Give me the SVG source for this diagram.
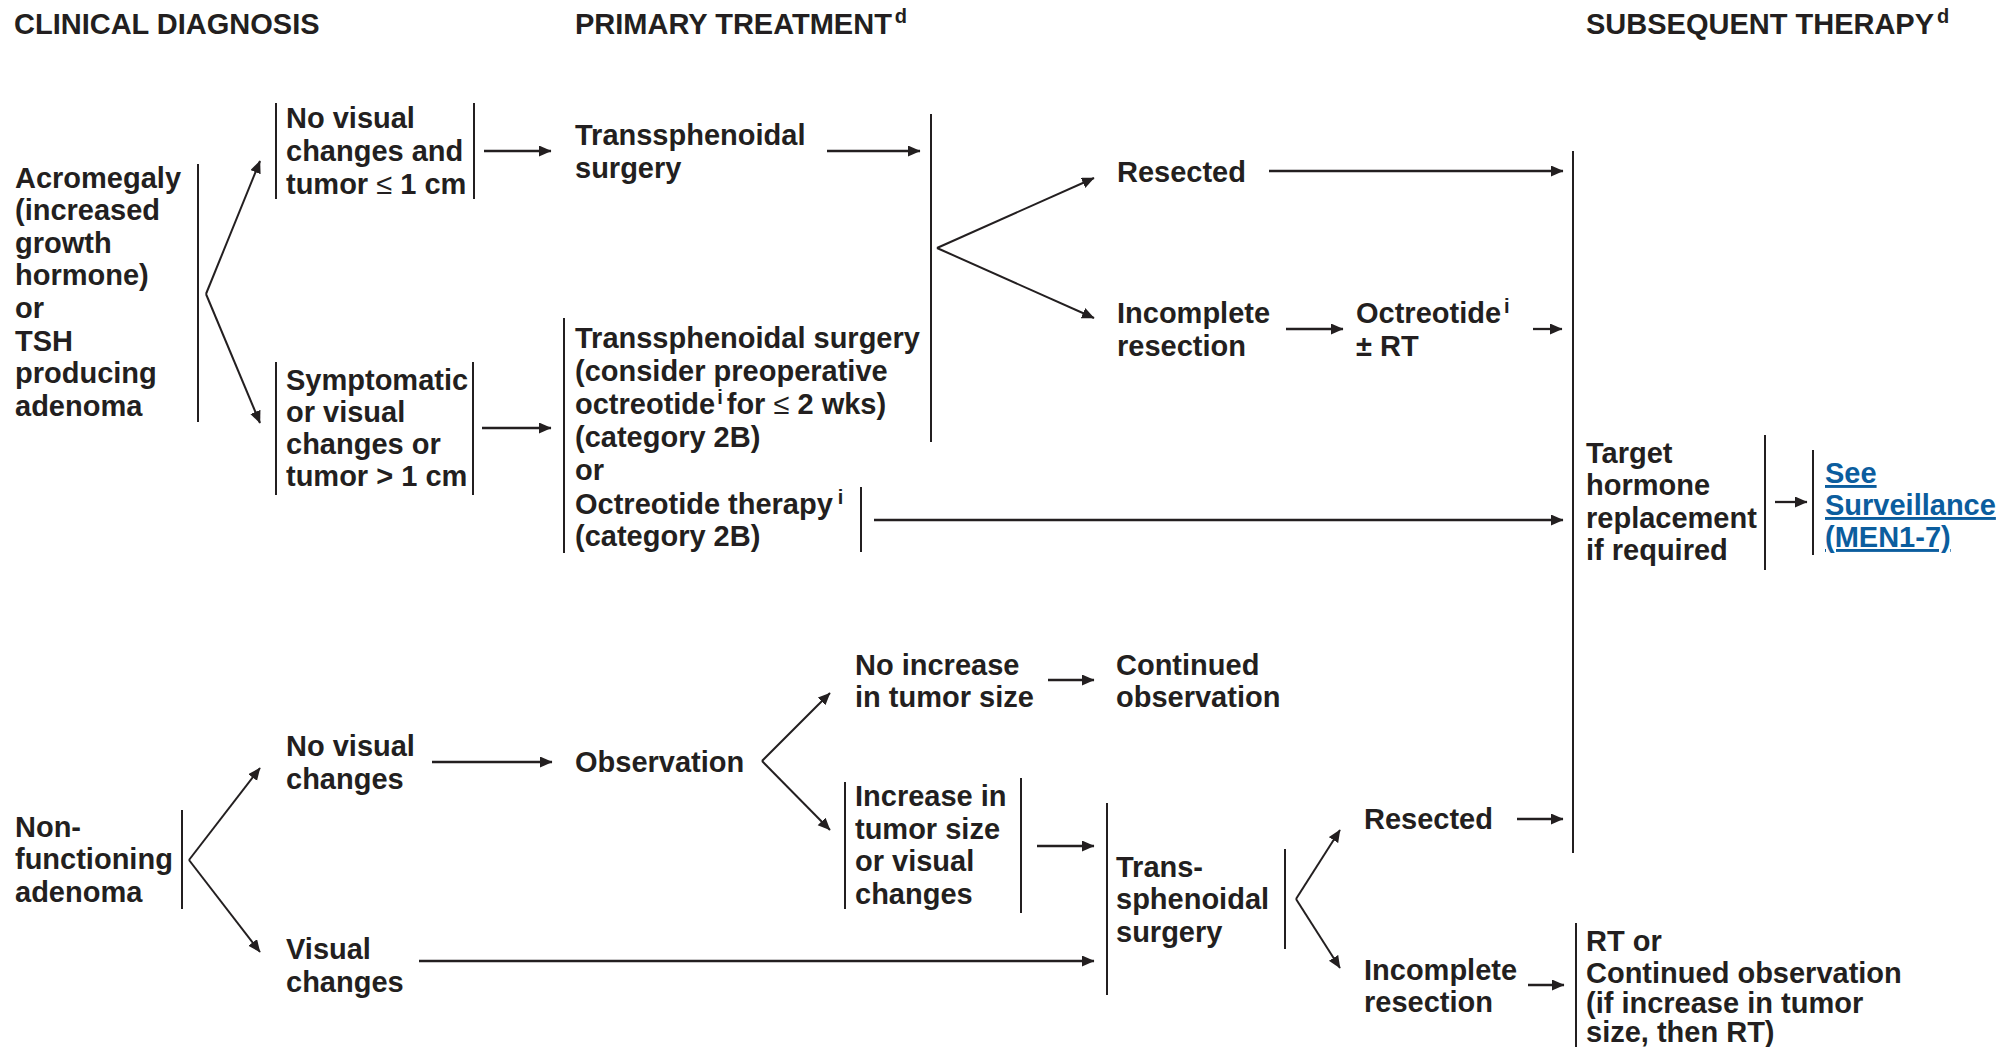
<svg xmlns="http://www.w3.org/2000/svg" width="2009" height="1047" viewBox="0 0 2009 1047">
  <style>
    text { font-family: "Liberation Sans", Arial, sans-serif; font-weight: bold; font-size: 29px; fill: #231f20; }
    .sup { font-size: 20px; }
    .sym { font-weight: normal; }
    .link { fill: #0b5d9e; text-decoration: underline; }
    .bar { stroke: #231f20; stroke-width: 2; fill: none; }
    .arr { stroke: #231f20; stroke-width: 2.3; fill: none; marker-end: url(#head); }
    .fork { stroke: #231f20; stroke-width: 2; fill: none; }
  </style>
  <defs>
    <marker id="head" markerUnits="userSpaceOnUse" markerWidth="14" markerHeight="12" refX="12" refY="5.5" orient="auto">
      <path d="M0,0 L12.5,5.5 L0,11 z" fill="#231f20"/>
    </marker>
  </defs>
  <rect width="2009" height="1047" fill="#ffffff"/>

  <!-- column headings -->
  <g id="headings">
    <text x="14" y="34">CLINICAL DIAGNOSIS</text>
    <text x="575" y="34">PRIMARY TREATMENT<tspan class="sup" dx="3" dy="-11">d</tspan></text>
    <text x="1586" y="34">SUBSEQUENT THERAPY<tspan class="sup" dx="3" dy="-11">d</tspan></text>
  </g>

  <!-- connectors: branch forks, separator bars and arrows -->
  <g id="connectors">
    <!-- acromegaly fork -->
    <line class="bar" x1="198" y1="164" x2="198" y2="422"/>
    <line class="fork arr" x1="206" y1="294" x2="260" y2="161"/>
    <line class="fork arr" x1="206" y1="294" x2="260" y2="423"/>

    <!-- node side bars -->
    <line class="bar" x1="276" y1="103" x2="276" y2="199"/>
    <line class="bar" x1="474" y1="103" x2="474" y2="199"/>
    <line class="bar" x1="276" y1="362" x2="276" y2="495"/>
    <line class="bar" x1="473" y1="362" x2="473" y2="495"/>
    <line class="bar" x1="564" y1="318" x2="564" y2="553"/>
    <line class="bar" x1="861" y1="487" x2="861" y2="552"/>
    <line class="bar" x1="931" y1="114" x2="931" y2="442"/>
    <line class="bar" x1="1573" y1="151" x2="1573" y2="853"/>
    <line class="bar" x1="1765" y1="435" x2="1765" y2="570"/>
    <line class="bar" x1="1813" y1="450" x2="1813" y2="555"/>

    <!-- upper arrows -->
    <line class="arr" x1="484" y1="151" x2="551" y2="151"/>
    <line class="arr" x1="827" y1="151" x2="920" y2="151"/>
    <line class="arr" x1="482" y1="428" x2="551" y2="428"/>
    <line class="fork arr" x1="937" y1="248" x2="1094" y2="178"/>
    <line class="fork arr" x1="937" y1="248" x2="1094" y2="318"/>
    <line class="arr" x1="1269" y1="171" x2="1563" y2="171"/>
    <line class="arr" x1="1286" y1="329" x2="1343" y2="329"/>
    <line class="arr" x1="1533" y1="329" x2="1562" y2="329"/>
    <line class="arr" x1="874" y1="520" x2="1563" y2="520"/>
    <line class="arr" x1="1775" y1="502" x2="1807" y2="502"/>

    <!-- non-functioning fork -->
    <line class="bar" x1="182" y1="810" x2="182" y2="909"/>
    <line class="fork arr" x1="189" y1="860" x2="260" y2="768"/>
    <line class="fork arr" x1="189" y1="860" x2="260" y2="952"/>

    <!-- lower arrows -->
    <line class="arr" x1="432" y1="762" x2="552" y2="762"/>
    <line class="fork arr" x1="762" y1="761" x2="830" y2="693"/>
    <line class="fork arr" x1="762" y1="761" x2="830" y2="830"/>
    <line class="arr" x1="1048" y1="680" x2="1094" y2="680"/>
    <line class="bar" x1="845" y1="782" x2="845" y2="909"/>
    <line class="bar" x1="1021" y1="778" x2="1021" y2="913"/>
    <line class="arr" x1="1037" y1="846" x2="1094" y2="846"/>
    <line class="arr" x1="419" y1="961" x2="1094" y2="961"/>
    <line class="bar" x1="1107" y1="803" x2="1107" y2="995"/>
    <line class="bar" x1="1285" y1="849" x2="1285" y2="949"/>
    <line class="fork arr" x1="1296" y1="899" x2="1340" y2="830"/>
    <line class="fork arr" x1="1296" y1="899" x2="1340" y2="968"/>
    <line class="arr" x1="1517" y1="819" x2="1563" y2="819"/>
    <line class="arr" x1="1528" y1="985" x2="1564" y2="985"/>
    <line class="bar" x1="1576" y1="923" x2="1576" y2="1047"/>
  </g>

  <!-- clinical diagnosis -->
  <g id="acromegaly">
    <text>
      <tspan x="15" y="187.5">Acromegaly</tspan>
      <tspan x="15" y="220">(increased</tspan>
      <tspan x="15" y="252.5">growth</tspan>
      <tspan x="15" y="285">hormone)</tspan>
      <tspan x="15" y="318">or</tspan>
      <tspan x="15" y="350.5">TSH</tspan>
      <tspan x="15" y="383">producing</tspan>
      <tspan x="15" y="415.5">adenoma</tspan>
    </text>
  </g>
  <g id="nonfunctioning">
    <text>
      <tspan x="15" y="836.5">Non-</tspan>
      <tspan x="15" y="869">functioning</tspan>
      <tspan x="15" y="902">adenoma</tspan>
    </text>
  </g>

  <!-- acromegaly presentations -->
  <g id="no-visual-small">
    <text>
      <tspan x="286" y="127.5">No visual</tspan>
      <tspan x="286" y="160.5">changes and</tspan>
      <tspan x="286" y="193.5">tumor <tspan class="sym">≤</tspan> 1 cm</tspan>
    </text>
  </g>
  <g id="symptomatic">
    <text>
      <tspan x="286" y="390">Symptomatic</tspan>
      <tspan x="286" y="422">or visual</tspan>
      <tspan x="286" y="454">changes or</tspan>
      <tspan x="286" y="486">tumor &gt; 1 cm</tspan>
    </text>
  </g>

  <!-- primary treatment -->
  <g id="surgery-top">
    <text>
      <tspan x="575" y="144.5">Transsphenoidal</tspan>
      <tspan x="575" y="177.5">surgery</tspan>
    </text>
  </g>
  <g id="surgery-or-octreotide">
    <text>
      <tspan x="575" y="348">Transsphenoidal surgery</tspan>
      <tspan x="575" y="381">(consider preoperative</tspan>
      <tspan x="575" y="414">octreotide<tspan class="sup" dx="2" dy="-10">i</tspan><tspan dx="4" dy="10">for </tspan><tspan class="sym">≤</tspan> 2 wks)</tspan>
      <tspan x="575" y="447">(category 2B)</tspan>
      <tspan x="575" y="480">or</tspan>
      <tspan x="575" y="514">Octreotide therapy<tspan class="sup" dx="5" dy="-10">i</tspan></tspan>
      <tspan x="575" y="546">(category 2B)</tspan>
    </text>
  </g>

  <!-- surgical outcome, acromegaly -->
  <g id="resected-top">
    <text x="1117" y="182">Resected</text>
  </g>
  <g id="incomplete-top">
    <text>
      <tspan x="1117" y="322.5">Incomplete</tspan>
      <tspan x="1117" y="355.5">resection</tspan>
    </text>
  </g>
  <g id="octreotide-rt">
    <text>
      <tspan x="1356" y="322.5">Octreotide<tspan class="sup" dx="3" dy="-10">i</tspan></tspan>
      <tspan x="1356" y="355.5">± RT</tspan>
    </text>
  </g>

  <!-- subsequent therapy -->
  <g id="target-hormone">
    <text>
      <tspan x="1586" y="462.5">Target</tspan>
      <tspan x="1586" y="495">hormone</tspan>
      <tspan x="1586" y="527.5">replacement</tspan>
      <tspan x="1586" y="560">if required</tspan>
    </text>
  </g>
  <g id="surveillance">
    <text class="link" x="1825" y="483">See</text>
    <text class="link" x="1825" y="515">Surveillance</text>
    <text class="link" x="1825" y="547">(MEN1-7)</text>
  </g>

  <!-- non-functioning pathway -->
  <g id="no-visual-nf">
    <text>
      <tspan x="286" y="756">No visual</tspan>
      <tspan x="286" y="788.5">changes</tspan>
    </text>
  </g>
  <g id="visual-nf">
    <text>
      <tspan x="286" y="959">Visual</tspan>
      <tspan x="286" y="992">changes</tspan>
    </text>
  </g>
  <g id="observation">
    <text x="575" y="771.5">Observation</text>
  </g>
  <g id="no-increase">
    <text>
      <tspan x="855" y="675">No increase</tspan>
      <tspan x="855" y="707">in tumor size</tspan>
    </text>
  </g>
  <g id="continued-observation">
    <text>
      <tspan x="1116" y="675">Continued</tspan>
      <tspan x="1116" y="707">observation</tspan>
    </text>
  </g>
  <g id="increase">
    <text>
      <tspan x="855" y="806">Increase in</tspan>
      <tspan x="855" y="838.5">tumor size</tspan>
      <tspan x="855" y="871">or visual</tspan>
      <tspan x="855" y="903.5">changes</tspan>
    </text>
  </g>
  <g id="surgery-nf">
    <text>
      <tspan x="1116" y="876.5">Trans-</tspan>
      <tspan x="1116" y="909">sphenoidal</tspan>
      <tspan x="1116" y="941.5">surgery</tspan>
    </text>
  </g>
  <g id="resected-nf">
    <text x="1364" y="829">Resected</text>
  </g>
  <g id="incomplete-nf">
    <text>
      <tspan x="1364" y="980">Incomplete</tspan>
      <tspan x="1364" y="1012">resection</tspan>
    </text>
  </g>
  <g id="rt-or-observation">
    <text>
      <tspan x="1586" y="951">RT or</tspan>
      <tspan x="1586" y="982.5">Continued observation</tspan>
      <tspan x="1586" y="1013">(if increase in tumor</tspan>
      <tspan x="1586" y="1042">size, then RT)</tspan>
    </text>
  </g>
</svg>
